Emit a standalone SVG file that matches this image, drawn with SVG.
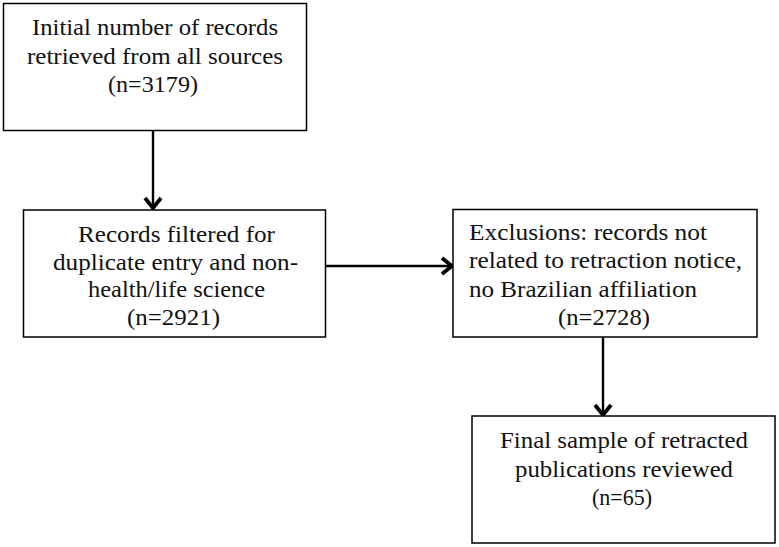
<svg xmlns="http://www.w3.org/2000/svg" width="779" height="547" viewBox="0 0 779 547">
<style>
.box{fill:#fff;stroke:#000;stroke-width:1.5}
.t{font-family:"Liberation Serif","Times New Roman",serif;font-size:24px;fill:#111}
.c{text-anchor:middle}
.ln{stroke:#000;stroke-width:2.4;fill:none}
</style>
<defs>
<marker id="ah" markerUnits="userSpaceOnUse" markerWidth="20" markerHeight="20" refX="14" refY="10" orient="auto">
<path d="M3,2 L13,10 L3,18" fill="none" stroke="#000" stroke-width="3.8"/>
</marker>
</defs>
<rect width="779" height="547" fill="#fff"/>
<g id="connectors">
<line class="ln" x1="153" y1="130" x2="153" y2="209" marker-end="url(#ah)"/>
<line class="ln" x1="325" y1="266" x2="453" y2="266" marker-end="url(#ah)"/>
<line class="ln" x1="603" y1="337" x2="603" y2="416" marker-end="url(#ah)"/>
</g>
<g id="n1">
<rect class="box" x="3.5" y="3.5" width="303" height="127"/>
<text class="t c" x="155" y="35" textLength="246" lengthAdjust="spacingAndGlyphs">Initial number of records</text>
<text class="t c" x="155" y="64" textLength="256" lengthAdjust="spacingAndGlyphs">retrieved from all sources</text>
<text class="t c" x="153" y="92" textLength="90" lengthAdjust="spacingAndGlyphs">(n=3179)</text>
</g>
<g id="n2">
<rect class="box" x="23.5" y="210" width="302" height="127"/>
<text class="t c" x="176.5" y="242" textLength="197" lengthAdjust="spacingAndGlyphs">Records filtered for</text>
<text class="t c" x="175.5" y="270" textLength="245" lengthAdjust="spacingAndGlyphs">duplicate entry and non-</text>
<text class="t c" x="176.5" y="297" textLength="177" lengthAdjust="spacingAndGlyphs">health/life science</text>
<text class="t c" x="173.5" y="325" textLength="93" lengthAdjust="spacingAndGlyphs">(n=2921)</text>
</g>
<g id="n3">
<rect class="box" x="453" y="209.5" width="304" height="127.5"/>
<text class="t" x="469" y="240" textLength="238" lengthAdjust="spacingAndGlyphs">Exclusions: records not</text>
<text class="t" x="469" y="268" textLength="273" lengthAdjust="spacingAndGlyphs">related to retraction notice,</text>
<text class="t" x="469" y="297" textLength="228" lengthAdjust="spacingAndGlyphs">no Brazilian affiliation</text>
<text class="t c" x="604" y="325" textLength="92" lengthAdjust="spacingAndGlyphs">(n=2728)</text>
</g>
<g id="n4">
<rect class="box" x="472" y="416" width="303" height="127"/>
<text class="t c" x="624" y="448" textLength="248" lengthAdjust="spacingAndGlyphs">Final sample of retracted</text>
<text class="t c" x="624" y="477" textLength="218" lengthAdjust="spacingAndGlyphs">publications reviewed</text>
<text class="t c" x="622" y="505" textLength="60" lengthAdjust="spacingAndGlyphs">(n=65)</text>
</g>
</svg>
